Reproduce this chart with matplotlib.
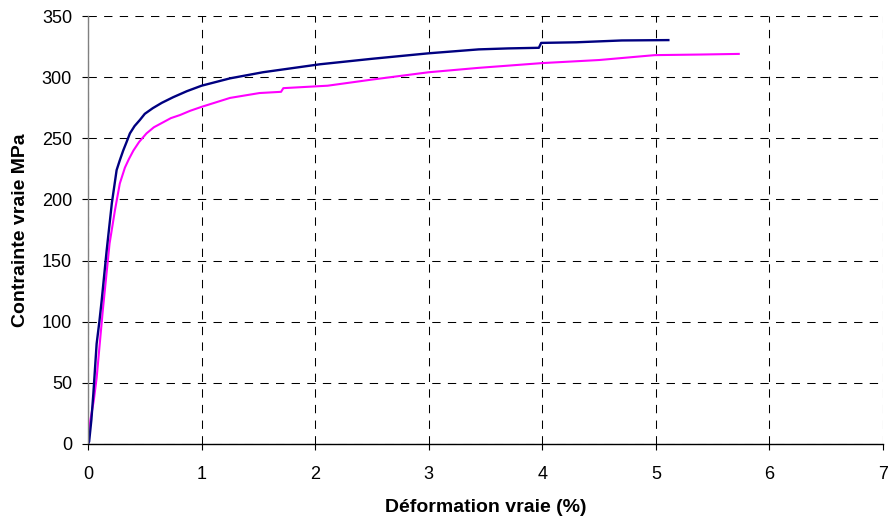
import matplotlib
matplotlib.use('Agg')
import matplotlib.pyplot as plt

plt.rcParams['font.family'] = ['Liberation Sans', 'DejaVu Sans']

# courbe 1 (bleu marine)
x_bleu = [0.0, 0.01, 0.03, 0.047, 0.076, 0.10, 0.12, 0.164, 0.21, 0.252, 0.28, 0.31,
          0.34, 0.369, 0.41, 0.457, 0.5, 0.57, 0.65, 0.75, 0.87, 1.0, 1.25, 1.54,
          2.04, 2.5, 3.0, 3.44, 3.7, 3.97, 3.99, 4.3, 4.7, 5.11]
y_bleu = [0, 2, 20, 41, 82, 100, 117, 158, 197, 224, 232, 240,
          247, 254, 260, 265, 270, 274.6, 279, 283.6, 288.5, 293, 299, 304,
          310.5, 315, 319.5, 322.7, 323.5, 324, 328, 328.5, 330, 330.3]

# courbe 2 (magenta)
x_mag = [0.0, 0.02, 0.05, 0.076, 0.13, 0.19, 0.237, 0.28, 0.325, 0.36, 0.4, 0.45,
         0.515, 0.58, 0.66, 0.73, 0.81, 0.9, 1.0, 1.25, 1.51, 1.7, 1.72, 2.11,
         2.5, 3.0, 3.44, 4.0, 4.5, 4.99, 5.4, 5.73]
y_mag = [0, 19, 35, 54, 109, 164, 191, 213, 226, 233, 240, 247,
         254, 259, 263, 266.5, 269, 272.5, 275.7, 283, 287, 288, 291, 293,
         298, 304, 307.6, 311.5, 314, 318, 318.5, 319]

x_ticks = [0, 1, 2, 3, 4, 5, 6, 7]
y_ticks = [0, 50, 100, 150, 200, 250, 300, 350]

fig = plt.figure(figsize=(8.91, 5.19), dpi=100)
ax = fig.add_axes([88 / 891, 75 / 519, 795 / 891, 428 / 519])

ax.plot(x_mag, y_mag, color='#ff00ff', linewidth=1.5)
ax.plot(x_bleu, y_bleu, color='#000080', linewidth=1.7)

ax.set_xlim(0, 7)
ax.set_ylim(0, 350)
ax.set_xticks(x_ticks)
ax.set_yticks(y_ticks)
ax.tick_params(labelsize=13, direction='out', length=4.5, width=0.8, color='black')
ax.tick_params(axis='x', pad=11)
ax.tick_params(axis='y', pad=7)

ax.grid(True, color='black', linestyle=(0, (8, 7)), linewidth=0.75)
ax.set_axisbelow(True)

ax.spines['top'].set_visible(False)
ax.spines['right'].set_visible(False)
ax.spines['left'].set_color('#808080')
ax.spines['left'].set_linewidth(1.0)
ax.spines['bottom'].set_color('black')
ax.spines['bottom'].set_linewidth(1.0)

ax.set_xlabel('Déformation vraie (%)', fontsize=14, fontweight='bold', labelpad=12)
ax.set_ylabel('Contrainte vraie MPa', fontsize=14, fontweight='bold', labelpad=9)

fig.savefig('out.png', dpi=100)
